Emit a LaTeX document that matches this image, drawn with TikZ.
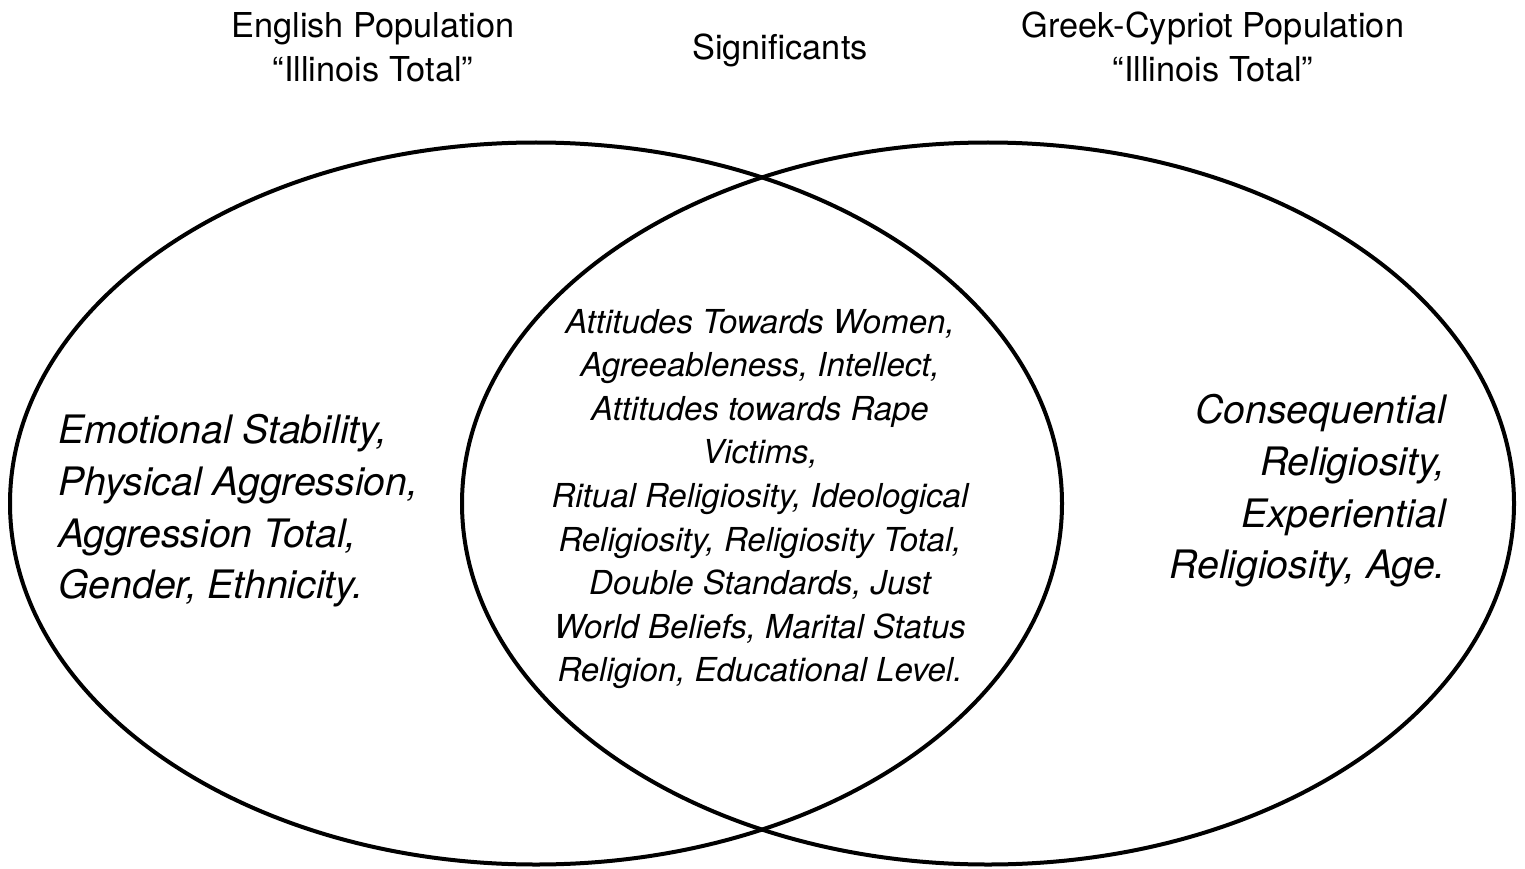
\documentclass[tikz,border=0pt]{standalone}
\usepackage{fontspec}
\setmainfont{TeX Gyre Heros}
\tikzset{
  venn/.style={draw=black, line width=4pt},
  head/.style={font=\fontsize{34.3}{44}\selectfont, align=center, inner sep=0pt},
  sidetxt/.style={font=\itshape\fontsize{39.2}{51.7}\selectfont, inner sep=0pt},
  midtxt/.style={font=\itshape\fontsize{33}{43.6}\selectfont, align=center, inner sep=0pt}
}
\begin{document}
\begin{tikzpicture}[x=1pt,y=-1pt]
\useasboundingbox (0,0) rectangle (1525,869);
\draw[venn] (536,503.5) ellipse [x radius=526pt, y radius=361pt];
\draw[venn] (988,503.5) ellipse [x radius=526pt, y radius=361pt];
\node[head] (hl) at (373,47) {English Population\\``Illinois Total''};
\node[head] (hm) at (780,50) {Significants};
\node[head] (hr) at (1213,47) {Greek-Cypriot Population\\``Illinois Total''};
\node[sidetxt, align=left, anchor=west] (tl) at (58,511) {Emotional Stability,\\Physical Aggression,\\Aggression Total,\\Gender, Ethnicity.};
\node[sidetxt, align=right, anchor=east] (tr) at (1446,491) {Consequential\\Religiosity,\\Experiential\\Religiosity, Age.};
\node[midtxt] (tm) at (760,499) {Attitudes Towards Women,\\Agreeableness, Intellect,\\Attitudes towards Rape\\Victims,\\Ritual Religiosity, Ideological\\Religiosity, Religiosity Total,\\Double Standards, Just\\World Beliefs, Marital Status\\Religion, Educational Level.};
\end{tikzpicture}
\end{document}
